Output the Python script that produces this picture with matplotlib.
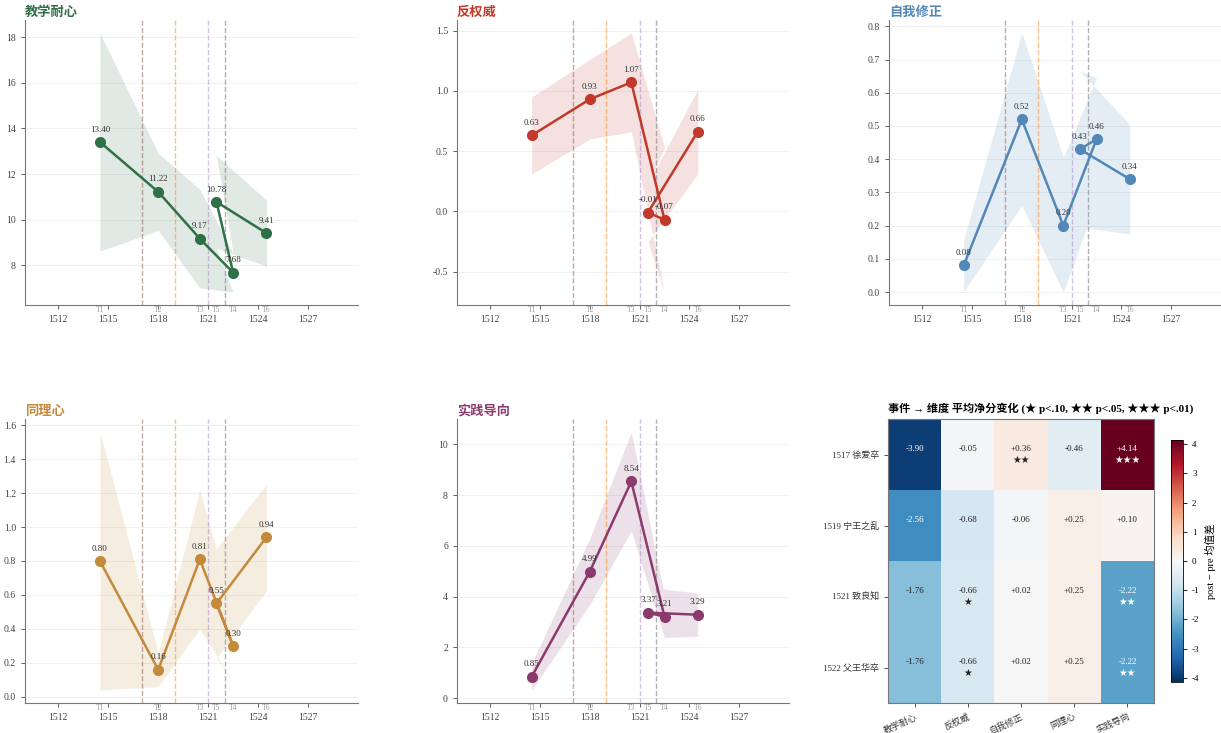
import numpy as np
import matplotlib
matplotlib.use("Agg")
import matplotlib.pyplot as plt
from matplotlib.transforms import blended_transform_factory

plt.rcParams['font.family'] = ['Liberation Serif', 'Noto Sans CJK SC', 'DejaVu Sans']
plt.rcParams['axes.unicode_minus'] = False

# wave labels and their (approximate) years, in survey order
waves = ["T1", "T2", "T3", "T4", "T5", "T6"]
wave_year = [1514.5, 1518.0, 1520.5, 1522.5, 1521.5, 1524.5]

dims = ["教学耐心", "反权威", "自我修正", "同理心", "实践导向"]
dim_colors = ["#2f7047", "#c0392b", "#5287b8", "#c48a3c", "#8b3a6e"]

mean_jxnx = [13.40, 11.22, 9.17, 7.68, 10.78, 9.41]
ci_jxnx = [4.78, 1.69, 2.16, 0.85, 2.03, 1.45]
mean_fqw = [0.63, 0.93, 1.07, -0.07, -0.01, 0.66]
ci_fqw = [0.32, 0.33, 0.41, 0.60, 0.24, 0.35]
mean_zwxz = [0.08, 0.52, 0.20, 0.46, 0.43, 0.34]
ci_zwxz = [0.078, 0.26, 0.205, 0.185, 0.235, 0.165]
mean_tlx = [0.80, 0.16, 0.81, 0.30, 0.55, 0.94]
ci_tlx = [0.76, 0.10, 0.41, 0.21, 0.32, 0.315]
mean_sjdx = [0.85, 4.99, 8.54, 3.21, 3.37, 3.29]
ci_sjdx = [0.53, 1.30, 1.95, 0.83, 1.00, 0.85]

means = [mean_jxnx, mean_fqw, mean_zwxz, mean_tlx, mean_sjdx]
cis = [ci_jxnx, ci_fqw, ci_zwxz, ci_tlx, ci_sjdx]

# life events
event_year = [1517, 1519, 1521, 1522]
event_name = ["徐爱卒", "宁王之乱", "致良知", "父王华卒"]
event_colors = ["#8c564b", "#ff7f0e", "#9467bd", "#7f7f7f"]
event_alpha = [0.5, 0.5, 0.4, 0.6]

# post - pre mean differences, rows = events, cols = dims
delta = np.array([
    [-3.90, -0.05, 0.36, -0.46, 4.14],
    [-2.56, -0.68, -0.06, 0.25, 0.10],
    [-1.76, -0.66, 0.02, 0.25, -2.22],
    [-1.76, -0.66, 0.02, 0.25, -2.22],
])
stars = [
    ["", "", "★★", "", "★★★"],
    ["", "", "", "", ""],
    ["", "★", "", "", "★★"],
    ["", "★", "", "", "★★"],
]

W, H = 1221, 733
fig = plt.figure(figsize=(W / 100, H / 100), dpi=100)


def box(l, t, r, b):
    return [l / W, 1 - b / H, (r - l) / W, (b - t) / H]


boxes = [box(25, 20, 358, 305), box(457, 20, 789, 305), box(889, 20, 1221, 305),
         box(25, 419, 358, 703), box(457, 419, 789, 703)]

for k in range(5):
    ax = fig.add_axes(boxes[k])
    c = dim_colors[k]
    m = np.array(means[k])
    ci = np.array(cis[k])
    lo = m - ci
    if k == 2:
        lo = np.clip(lo, 0, None)
    ax.fill_between(wave_year, lo, m + ci, color=c, alpha=0.15, linewidth=0)
    ax.plot(wave_year, m, color=c, lw=1.8, marker='o', ms=7, zorder=3)
    for x, y in zip(wave_year, m):
        ax.annotate(f"{y:.2f}", (x, y), xytext=(0, 6), textcoords='offset points',
                    ha='center', va='bottom', fontsize=6.5, color='#333333')
    for x, ec, ea in zip(event_year, event_colors, event_alpha):
        ax.axvline(x, color=ec, alpha=ea, lw=1, ls='--', zorder=1)
    tr = blended_transform_factory(ax.transData, ax.transAxes)
    for x, lab in zip(wave_year, waves):
        ax.text(x, -0.002, lab, transform=tr, ha='center', va='top',
                fontsize=5.5, color='#999999', clip_on=False)
    ax.set_xlim(1510, 1530)
    ax.set_xticks(range(1512, 1530, 3))
    ax.tick_params(labelsize=7, colors='#444444', length=3, width=0.6)
    ax.tick_params(axis='x', pad=4)
    ax.grid(axis='y', color='#eeeeee', lw=0.6)
    ax.set_axisbelow(True)
    for s in ['top', 'right']:
        ax.spines[s].set_visible(False)
    for s in ['left', 'bottom']:
        ax.spines[s].set_color('#777777')
        ax.spines[s].set_linewidth(0.8)
    ax.set_title(dims[k], loc='left', color=c, fontsize=9.5, fontweight='bold',
                 family=['Noto Sans CJK SC', 'DejaVu Sans'], pad=3)

# event x dimension heatmap
hx = fig.add_axes(box(888, 419, 1154, 703))
vmax = np.abs(delta).max()
im = hx.imshow(delta, cmap='RdBu_r', vmin=-vmax, vmax=vmax, aspect='auto')
for i in range(delta.shape[0]):
    for j in range(delta.shape[1]):
        v = delta[i, j]
        tc = 'white' if abs(v) > 0.5 * vmax else '#222222'
        txt = f"{v:+.2f}"
        hx.text(j, i - 0.08, txt, ha='center', va='center', fontsize=6.5, color=tc)
        if stars[i][j]:
            hx.text(j, i + 0.08, stars[i][j], ha='center', va='center', fontsize=7,
                    color=tc, family=['DejaVu Sans'])
hx.set_xticks(range(len(dims)))
hx.set_xticklabels(dims, rotation=25, ha='right', rotation_mode='anchor')
hx.set_yticks(range(len(event_year)))
hx.set_yticklabels([f"{y} {n}" for y, n in zip(event_year, event_name)])
hx.tick_params(labelsize=6.5, colors='#333333', length=3, width=0.6)
for s in hx.spines.values():
    s.set_color('#777777')
    s.set_linewidth(0.8)
hx.set_title("事件 → 维度 平均净分变化 (★ p<.10, ★★ p<.05, ★★★ p<.01)",
             loc='left', fontsize=8, fontweight='bold', pad=5)

cax = fig.add_axes(box(1171, 440, 1183, 682))
cb = fig.colorbar(im, cax=cax)
cb.set_ticks(range(-4, 5))
cb.ax.tick_params(labelsize=6.5, length=3, width=0.6)
cb.set_label("post − pre 均值差", fontsize=7.5, labelpad=4)
cb.outline.set_linewidth(0.6)

fig.savefig("out.png", dpi=100)
